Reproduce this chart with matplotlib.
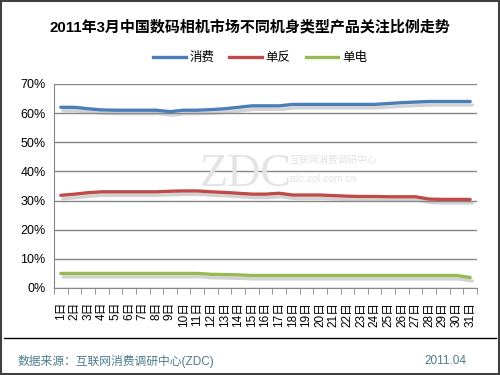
import numpy as np
import matplotlib
matplotlib.use('Agg')
import matplotlib.pyplot as plt
import matplotlib.patheffects as pe
from matplotlib.patches import Rectangle
from matplotlib.lines import Line2D

plt.rcParams['font.family'] = ['Liberation Sans', 'Noto Sans CJK SC']

# 数据
days = [f'{i}日' for i in range(1, 32)]
consumer = [62.0, 62.0, 61.5, 61.1, 61.0, 61.0, 61.0, 61.0, 60.5, 61.0,
            61.0, 61.2, 61.5, 62.0, 62.5, 62.5, 62.5, 63.0, 63.0, 63.0,
            63.0, 63.0, 63.0, 63.0, 63.3, 63.6, 63.8, 64.0, 64.0, 64.0, 64.0]
dslr = [31.8, 32.2, 32.7, 33.0, 33.0, 33.0, 33.0, 33.0, 33.2, 33.3,
        33.3, 33.0, 32.8, 32.5, 32.2, 32.2, 32.5, 31.9, 31.9, 31.9,
        31.7, 31.5, 31.4, 31.4, 31.3, 31.3, 31.3, 30.5, 30.4, 30.4, 30.4]
mirrorless = [5.0, 5.0, 5.0, 5.0, 5.0, 5.0, 5.0, 5.0, 5.0, 5.0,
              5.0, 4.7, 4.6, 4.5, 4.3, 4.3, 4.3, 4.3, 4.3, 4.3,
              4.3, 4.3, 4.3, 4.3, 4.3, 4.3, 4.3, 4.3, 4.3, 4.3, 3.6]
series_names = ['消费', '单反', '单电']
colors = ['#4a7ebb', '#be4b48', '#98b954']

fig = plt.figure(figsize=(5, 3.75), dpi=100)
ax = fig.add_axes([54 / 500, 1 - 288 / 375, 423 / 500, 204 / 375])

x = np.arange(len(days))
shadow = [pe.SimpleLineShadow(offset=(1.5, -2.5), shadow_color='#909090', alpha=0.4), pe.Normal()]
for vals, name, c in zip([consumer, dslr, mirrorless], series_names, colors):
    ax.plot(x, vals, color=c, lw=2.4, label=name, solid_capstyle='round',
            path_effects=shadow, zorder=3)

ax.set_xlim(-0.5, len(days) - 0.5)
ax.set_ylim(0, 70)
ax.set_yticks(range(0, 71, 10))
ax.set_yticklabels([f'{v}%' for v in range(0, 71, 10)], fontsize=9)
ax.yaxis.grid(True, color='#868686', lw=1)
ax.set_axisbelow(True)
ax.tick_params(axis='y', length=0, pad=6)

ax.set_xticks(x)
ax.set_xticklabels(days, rotation=90, fontsize=8.5)
ax.set_xticks(np.arange(-0.5, len(days)), minor=True)
ax.tick_params(axis='x', which='major', length=0, pad=10)
ax.tick_params(axis='x', which='minor', length=4, color='#868686', direction='out')

for s in ['top', 'right']:
    ax.spines[s].set_visible(False)
for s in ['left', 'bottom']:
    ax.spines[s].set_color('#868686')

# 水印
fig.text(200 / 500, 1 - 186 / 375, 'ZDC', fontsize=33, family='Liberation Serif',
         color='#e4e4e4', zorder=0)
fig.text(289 / 500, 1 - 160 / 375, '互联网消费调研中心', fontsize=7, color='#e2e2e2',
         va='center', zorder=0)
fig.text(289 / 500, 1 - 179 / 375, 'zdc.zol.com.cn', fontsize=7.5, color='#e2e2e2',
         va='center', zorder=0)

fig.text(0.5, 0.928, '2011年3月中国数码相机市场不同机身类型产品关注比例走势',
         ha='center', va='center', fontsize=10.8, fontweight='bold')

handles = [Line2D([], [], color=c, lw=2.4) for c in colors]
fig.legend(handles, series_names, loc='center', bbox_to_anchor=(0.52, 0.845), ncol=3,
           frameon=False, fontsize=9, handlelength=2.6, columnspacing=1.2, handletextpad=0.3)

fig.add_artist(Line2D([4 / 500, 496 / 500], [1 - 338 / 375] * 2, color='black', lw=1))
fig.text(18 / 500, 1 - 361 / 375, '数据来源：互联网消费调研中心(ZDC)', fontsize=8.5,
         color='#4d7b8c', va='center')
fig.text(466 / 500, 1 - 361 / 375, '2011.04', fontsize=8.5, color='#4d7b8c',
         va='center', ha='right')

fig.add_artist(Rectangle((0.002, 0.003), 0.996, 0.994, transform=fig.transFigure,
                         fill=False, edgecolor='#404040', lw=1.5))

fig.savefig('out.png', dpi=100)
